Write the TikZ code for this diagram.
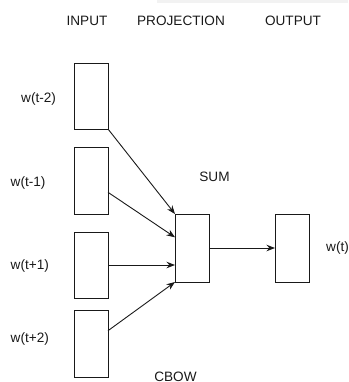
\documentclass[tikz,border=0pt]{standalone}
\usepackage{fontspec}
\setmainfont{Liberation Sans}
\usetikzlibrary{arrows.meta}
\begin{document}
\begin{tikzpicture}[x=1pt,y=-1pt,
  vec/.style={draw=black!90,line width=0.9pt,inner sep=0pt,outer sep=0pt},
  lbl/.style={font=\fontsize{13.6}{16}\selectfont,text=black!90,inner sep=0pt},
  arr/.style={draw=black!90,line width=0.9pt,-{Stealth[length=8.5pt,width=6.5pt]}}]
\useasboundingbox (0,0) rectangle (348,382);
\fill[black!5] (157,0) rectangle (348,2.7);
% titles
\node[lbl] (tin) at (87,21) {INPUT};
\node[lbl] (tproj) at (181,21) {PROJECTION};
\node[lbl] (tout) at (293,21) {OUTPUT};
% input boxes
\node[vec,minimum width=34pt,minimum height=66pt] (b1) at (91,96) {};
\node[vec,minimum width=34pt,minimum height=67pt] (b2) at (91,180.5) {};
\node[vec,minimum width=34pt,minimum height=66pt] (b3) at (91,265) {};
\node[vec,minimum width=34pt,minimum height=67pt] (b4) at (91,343.5) {};
% sum and output
\node[vec,minimum width=34pt,minimum height=68pt] (sum) at (192,248) {};
\node[vec,minimum width=34pt,minimum height=68pt] (out) at (292,248) {};
% labels
\node[lbl,anchor=west] (l1) at (21,99) {w(t-2)};
\node[lbl,anchor=west] (l2) at (10.5,183) {w(t-1)};
\node[lbl,anchor=west] (l3) at (10.5,266) {w(t+1)};
\node[lbl,anchor=west] (l4) at (10.5,339) {w(t+2)};
\node[lbl] (lsum) at (214.5,177) {SUM};
\node[lbl,anchor=west] (lout) at (326,248) {w(t)};
\node[lbl,anchor=base] (lcbow) at (175.5,381.5) {CBOW};
% arrows
\draw[arr] (b1.south east) -- (sum.north west);
\draw[arr] (b2.east |- 0,192.3) -- (sum.west |- 0,237.3);
\draw[arr] (b3.east |- 0,265) -- (sum.west |- 0,265);
\draw[arr] (b4.east |- 0,330.7) -- (sum.west |- 0,282);
\draw[arr] (sum.east) -- (out.west);
\end{tikzpicture}
\end{document}
